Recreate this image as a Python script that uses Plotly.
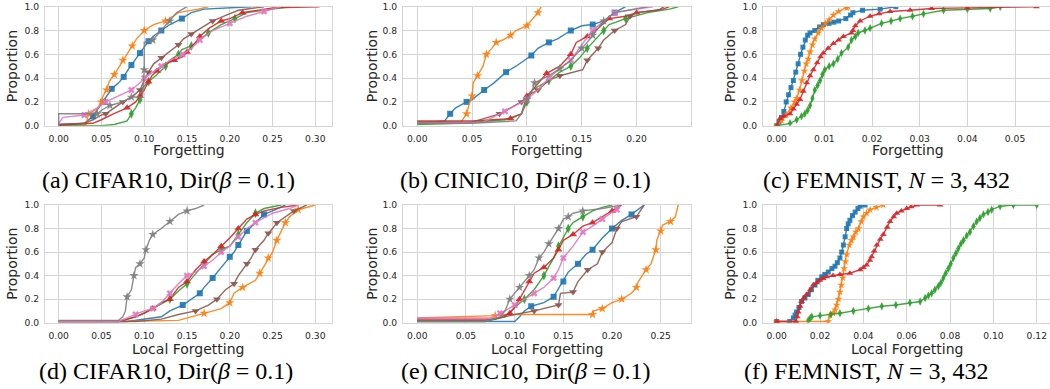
import plotly.graph_objects as go

# ---------------- data (ECDF breakpoints) ----------------
# (a) CIFAR10 Forgetting
A_BLUE_X = [0.0,0.03,0.04,0.045,0.052,0.058,0.062,0.07,0.076,0.082,0.085,0.09,0.095,0.1,0.105,0.112,0.12,0.13,0.144,0.155,0.17,0.2,0.225]
A_BLUE_Y = [0.01,0.02,0.08,0.13,0.2,0.27,0.31,0.36,0.41,0.48,0.51,0.55,0.61,0.66,0.71,0.76,0.8,0.85,0.9,0.95,0.98,0.99,1.0]
A_ORANGE_X = [0.0,0.032,0.035,0.045,0.05,0.052,0.056,0.059,0.065,0.07,0.075,0.081,0.086,0.091,0.1,0.111,0.125,0.14,0.163,0.175]
A_ORANGE_Y = [0.0,0.01,0.1,0.14,0.2,0.25,0.3,0.37,0.43,0.49,0.55,0.61,0.67,0.73,0.8,0.85,0.88,0.95,0.98,1.0]
A_GREEN_X = [0.0,0.05,0.065,0.08,0.085,0.09,0.095,0.097,0.105,0.115,0.125,0.13,0.14,0.144,0.155,0.165,0.175,0.19,0.206,0.22,0.25,0.27]
A_GREEN_Y = [0.0,0.0,0.01,0.04,0.1,0.15,0.22,0.31,0.37,0.43,0.5,0.55,0.6,0.64,0.67,0.72,0.78,0.85,0.9,0.95,0.98,1.0]
A_RED_X = [0.0,0.04,0.05,0.064,0.08,0.09,0.095,0.1,0.105,0.109,0.115,0.122,0.135,0.145,0.15,0.16,0.165,0.176,0.19,0.2,0.215,0.25,0.305]
A_RED_Y = [0.01,0.02,0.05,0.1,0.15,0.2,0.25,0.3,0.37,0.42,0.46,0.51,0.55,0.58,0.62,0.7,0.75,0.82,0.88,0.9,0.95,0.99,1.0]
A_BROWN_X = [0.0,0.03,0.04,0.05,0.055,0.065,0.075,0.085,0.095,0.1,0.105,0.111,0.12,0.13,0.14,0.146,0.155,0.169,0.18,0.196,0.21,0.24]
A_BROWN_Y = [0.0,0.02,0.05,0.09,0.1,0.15,0.2,0.24,0.3,0.38,0.45,0.52,0.57,0.62,0.68,0.73,0.77,0.83,0.88,0.93,0.97,1.0]
A_PINK_X = [0.0,0.005,0.03,0.045,0.055,0.07,0.085,0.095,0.1,0.11,0.12,0.13,0.145,0.155,0.165,0.18,0.2,0.22,0.24,0.26]
A_PINK_Y = [0.02,0.07,0.09,0.15,0.2,0.25,0.3,0.36,0.4,0.45,0.5,0.55,0.6,0.65,0.72,0.8,0.86,0.92,0.96,1.0]
A_GRAY_X = [0.0,0.0,0.045,0.05,0.06,0.075,0.085,0.098,0.1,0.1,0.11,0.12,0.13,0.138,0.15]
A_GRAY_Y = [0.0,0.1,0.1,0.13,0.17,0.2,0.24,0.24,0.47,0.7,0.72,0.8,0.88,0.95,1.0]

# (b) CINIC10 Forgetting
B_BLUE_X = [0.0,0.025,0.03,0.035,0.045,0.05,0.061,0.07,0.081,0.09,0.104,0.11,0.12,0.128,0.14,0.15,0.16,0.17,0.18,0.19]
B_BLUE_Y = [0.02,0.04,0.1,0.15,0.2,0.22,0.3,0.36,0.45,0.5,0.59,0.65,0.7,0.73,0.8,0.84,0.85,0.88,0.95,1.0]
B_ORANGE_X = [0.0,0.04,0.045,0.047,0.05,0.051,0.055,0.06,0.063,0.068,0.072,0.078,0.085,0.09,0.1,0.105,0.11,0.113]
B_ORANGE_Y = [0.03,0.03,0.1,0.17,0.25,0.36,0.42,0.5,0.6,0.65,0.7,0.72,0.76,0.8,0.84,0.9,0.95,1.0]
B_GREEN_X = [0.0,0.04,0.08,0.095,0.1,0.105,0.12,0.13,0.14,0.148,0.155,0.161,0.17,0.175,0.19,0.21,0.23,0.238]
B_GREEN_Y = [0.01,0.02,0.05,0.1,0.2,0.3,0.38,0.45,0.5,0.57,0.65,0.71,0.8,0.85,0.9,0.95,0.98,1.0]
B_RED_X = [0.0,0.05,0.085,0.095,0.1,0.105,0.118,0.13,0.14,0.145,0.155,0.165,0.175,0.19,0.2,0.224,0.23]
B_RED_Y = [0.04,0.04,0.06,0.1,0.25,0.3,0.44,0.5,0.6,0.7,0.75,0.82,0.9,0.92,0.95,0.98,1.0]
B_BROWN_X = [0.0,0.05,0.075,0.085,0.095,0.1,0.11,0.12,0.13,0.151,0.155,0.16,0.165,0.17,0.18,0.19,0.194,0.2,0.22,0.225]
B_BROWN_Y = [0.03,0.03,0.1,0.15,0.2,0.25,0.3,0.38,0.42,0.47,0.55,0.6,0.65,0.72,0.8,0.85,0.92,0.95,0.97,1.0]
B_PINK_X = [0.0,0.06,0.08,0.09,0.1,0.11,0.12,0.13,0.14,0.15,0.16,0.17,0.18,0.2,0.215]
B_PINK_Y = [0.02,0.03,0.12,0.17,0.22,0.3,0.4,0.48,0.55,0.68,0.8,0.88,0.95,0.98,1.0]
B_GRAY_X = [0.0,0.05,0.09,0.095,0.1,0.105,0.107,0.12,0.13,0.14,0.15,0.155,0.16,0.165,0.17,0.18,0.2,0.21]
B_GRAY_Y = [0.02,0.02,0.04,0.1,0.22,0.3,0.36,0.42,0.48,0.55,0.65,0.7,0.76,0.82,0.88,0.95,0.98,1.0]

# (c) FEMNIST Forgetting
C_BLUE_X = [0.0,0.0005,0.001,0.0015,0.002,0.0025,0.003,0.0035,0.004,0.0045,0.005,0.0055,0.006,0.0065,0.007,0.008,0.009,0.0098,0.011,0.012,0.013,0.0145,0.0155,0.016,0.018,0.0217,0.025]
C_BLUE_Y = [0.0,0.03,0.07,0.12,0.2,0.26,0.32,0.38,0.45,0.52,0.6,0.66,0.72,0.76,0.78,0.8,0.83,0.85,0.86,0.87,0.88,0.9,0.93,0.95,0.97,0.98,1.0]
C_ORANGE_X = [0.0,0.001,0.002,0.003,0.0038,0.0042,0.0048,0.0053,0.0058,0.0062,0.0066,0.007,0.0075,0.008,0.0087,0.0094,0.0102,0.011,0.0119,0.013,0.0147,0.015]
C_ORANGE_Y = [0.0,0.04,0.09,0.15,0.2,0.23,0.3,0.38,0.46,0.52,0.56,0.62,0.68,0.73,0.78,0.82,0.86,0.89,0.93,0.96,0.99,1.0]
C_GREEN_X = [0.0003,0.0028,0.0042,0.0052,0.0059,0.0065,0.007,0.0075,0.008,0.0086,0.0091,0.0096,0.0101,0.011,0.0119,0.0128,0.0136,0.015,0.0157,0.0165,0.0171,0.0185,0.0196,0.022,0.024,0.0259,0.0285,0.0308,0.035,0.04,0.0448,0.0469]
C_GREEN_Y = [0.0,0.02,0.05,0.08,0.1,0.13,0.17,0.23,0.3,0.34,0.38,0.43,0.47,0.5,0.52,0.56,0.61,0.66,0.72,0.75,0.78,0.8,0.82,0.86,0.88,0.9,0.92,0.94,0.97,0.98,0.985,1.0]
C_RED_X = [0.0,0.0007,0.0015,0.0028,0.0035,0.0042,0.0049,0.0056,0.0063,0.007,0.0077,0.0085,0.0092,0.0098,0.0108,0.0119,0.013,0.014,0.0157,0.016,0.0165,0.0175,0.0196,0.0215,0.0238,0.028,0.0325,0.04,0.0545]
C_RED_Y = [0.0,0.06,0.08,0.1,0.14,0.18,0.22,0.29,0.36,0.42,0.47,0.53,0.58,0.61,0.65,0.69,0.72,0.75,0.78,0.8,0.84,0.88,0.92,0.94,0.96,0.97,0.985,0.99,1.0]

# (d) CIFAR10 Local Forgetting
D_BLUE_X = [0.0,0.08,0.12,0.13,0.145,0.155,0.165,0.17,0.18,0.19,0.2,0.205,0.21,0.215,0.22,0.23,0.24,0.25,0.265]
D_BLUE_Y = [0.01,0.01,0.05,0.1,0.15,0.2,0.25,0.3,0.38,0.47,0.56,0.6,0.66,0.72,0.78,0.85,0.92,0.95,1.0]
D_ORANGE_X = [0.0,0.07,0.14,0.15,0.17,0.19,0.2,0.205,0.215,0.23,0.235,0.24,0.245,0.25,0.255,0.26,0.265,0.27,0.28,0.3]
D_ORANGE_Y = [0.01,0.01,0.02,0.04,0.08,0.12,0.17,0.25,0.3,0.36,0.42,0.48,0.55,0.6,0.7,0.78,0.85,0.9,0.96,1.0]
D_GREEN_X = [0.0,0.07,0.09,0.11,0.13,0.14,0.15,0.16,0.17,0.18,0.19,0.2,0.21,0.22,0.23,0.24,0.26]
D_GREEN_Y = [0.01,0.01,0.05,0.12,0.2,0.27,0.33,0.42,0.5,0.58,0.62,0.65,0.75,0.85,0.93,0.97,1.0]
D_RED_X = [0.0,0.07,0.09,0.1,0.11,0.12,0.13,0.14,0.15,0.16,0.17,0.18,0.19,0.2,0.21,0.22,0.23,0.24,0.26,0.28]
D_RED_Y = [0.01,0.01,0.05,0.08,0.12,0.17,0.2,0.3,0.35,0.45,0.52,0.58,0.65,0.72,0.8,0.88,0.92,0.95,0.98,1.0]
D_BROWN_X = [0.0,0.09,0.12,0.14,0.16,0.175,0.185,0.195,0.205,0.21,0.22,0.225,0.23,0.24,0.245,0.25,0.255,0.265,0.275,0.29]
D_BROWN_Y = [0.01,0.01,0.03,0.07,0.1,0.15,0.2,0.28,0.33,0.4,0.5,0.55,0.62,0.7,0.76,0.8,0.85,0.9,0.95,1.0]
D_PINK_X = [0.0,0.07,0.09,0.1,0.11,0.12,0.13,0.14,0.15,0.16,0.17,0.18,0.19,0.2,0.21,0.22,0.23,0.25,0.27,0.28]
D_PINK_Y = [0.01,0.01,0.07,0.1,0.12,0.17,0.25,0.33,0.4,0.43,0.48,0.53,0.6,0.65,0.73,0.8,0.85,0.93,0.97,1.0]
D_GRAY_X = [0.0,0.07,0.075,0.078,0.08,0.085,0.088,0.09,0.095,0.1,0.102,0.106,0.11,0.12,0.13,0.14,0.15,0.16,0.17]
D_GRAY_Y = [0.02,0.02,0.05,0.1,0.22,0.28,0.4,0.47,0.5,0.55,0.62,0.7,0.75,0.8,0.86,0.92,0.95,0.97,1.0]

# (e) CINIC10 Local Forgetting
E_BLUE_X = [0.0,0.1,0.105,0.11,0.117,0.13,0.14,0.145,0.15,0.155,0.165,0.173,0.18,0.19,0.2,0.21,0.22,0.23,0.233]
E_BLUE_Y = [0.01,0.01,0.05,0.1,0.14,0.17,0.22,0.29,0.35,0.43,0.5,0.58,0.62,0.72,0.8,0.87,0.92,0.98,1.0]
E_ORANGE_X = [0.0,0.05,0.08,0.09,0.18,0.181,0.19,0.2,0.21,0.22,0.225,0.227,0.235,0.24,0.245,0.246,0.25,0.252,0.26,0.265,0.268]
E_ORANGE_Y = [0.04,0.05,0.06,0.07,0.07,0.1,0.12,0.17,0.2,0.25,0.3,0.35,0.45,0.5,0.62,0.7,0.78,0.83,0.86,0.9,1.0]
E_GREEN_X = [0.0,0.07,0.09,0.1,0.11,0.12,0.13,0.14,0.145,0.15,0.155,0.16,0.17,0.18,0.19,0.2]
E_GREEN_Y = [0.01,0.01,0.05,0.13,0.2,0.28,0.4,0.55,0.65,0.72,0.8,0.85,0.9,0.95,0.98,1.0]
E_RED_X = [0.0,0.08,0.095,0.1,0.105,0.11,0.115,0.12,0.13,0.14,0.145,0.15,0.16,0.17,0.18,0.19,0.2,0.21]
E_RED_Y = [0.03,0.03,0.08,0.13,0.2,0.27,0.35,0.42,0.47,0.55,0.62,0.7,0.75,0.82,0.85,0.9,0.95,1.0]
E_BROWN_X = [0.0,0.07,0.09,0.1,0.12,0.13,0.145,0.147,0.16,0.165,0.175,0.185,0.19,0.2,0.205,0.21,0.225,0.233]
E_BROWN_Y = [0.02,0.02,0.05,0.07,0.1,0.12,0.15,0.25,0.26,0.35,0.45,0.5,0.6,0.68,0.8,0.86,0.9,1.0]
E_PINK_X = [0.0,0.075,0.085,0.09,0.1,0.11,0.12,0.13,0.14,0.145,0.15,0.16,0.17,0.18,0.19,0.2,0.205,0.21]
E_PINK_Y = [0.04,0.04,0.08,0.1,0.15,0.2,0.25,0.3,0.38,0.45,0.55,0.65,0.77,0.82,0.88,0.94,0.96,1.0]
E_GRAY_X = [0.0,0.07,0.085,0.09,0.095,0.1,0.105,0.11,0.115,0.12,0.125,0.13,0.135,0.14,0.145,0.15,0.155,0.16,0.17,0.19,0.21]
E_GRAY_Y = [0.01,0.01,0.05,0.1,0.2,0.25,0.3,0.35,0.4,0.45,0.55,0.6,0.67,0.73,0.8,0.88,0.9,0.93,0.95,0.97,1.0]

# (f) FEMNIST Local Forgetting
F_BLUE_X = [0.0,0.006,0.0077,0.0085,0.0092,0.0103,0.0115,0.013,0.0146,0.016,0.0177,0.019,0.0208,0.0222,0.0238,0.0255,0.0269,0.028,0.0292,0.03,0.0308,0.0316,0.0323,0.033,0.0338,0.035,0.0362,0.0375,0.0385,0.0408]
F_BLUE_Y = [0.01,0.01,0.04,0.065,0.09,0.13,0.18,0.21,0.24,0.28,0.32,0.36,0.39,0.41,0.43,0.46,0.48,0.51,0.55,0.6,0.66,0.73,0.8,0.84,0.87,0.91,0.94,0.97,0.99,1.0]
F_ORANGE_X = [0.0,0.0238,0.0246,0.026,0.027,0.0277,0.0285,0.0292,0.0298,0.0305,0.0311,0.0317,0.0323,0.0335,0.0345,0.0354,0.0365,0.0377,0.039,0.04,0.0415,0.0431,0.046,0.0492]
F_ORANGE_Y = [0.01,0.01,0.065,0.08,0.11,0.15,0.2,0.26,0.32,0.38,0.46,0.52,0.58,0.66,0.7,0.73,0.77,0.8,0.86,0.9,0.93,0.96,0.98,1.0]
F_GREEN_X = [0.0146,0.0155,0.0162,0.02,0.025,0.0292,0.0354,0.0423,0.0485,0.055,0.0615,0.0662,0.0685,0.07,0.0715,0.073,0.0746,0.0758,0.0769,0.078,0.0792,0.0803,0.0815,0.0827,0.0838,0.085,0.0862,0.0877,0.0892,0.0908,0.0923,0.0938,0.0954,0.0975,0.0992,0.1031,0.1092,0.12]
F_GREEN_Y = [0.02,0.04,0.05,0.06,0.07,0.08,0.1,0.12,0.14,0.15,0.17,0.18,0.21,0.23,0.25,0.28,0.31,0.34,0.38,0.42,0.46,0.5,0.55,0.59,0.63,0.67,0.7,0.74,0.77,0.82,0.86,0.89,0.92,0.94,0.96,0.99,1.0,1.0]
F_RED_X = [0.0,0.0089,0.0095,0.01,0.0108,0.0115,0.0125,0.0138,0.0155,0.0169,0.0185,0.02,0.0215,0.0231,0.026,0.0292,0.0338,0.0385,0.04,0.0415,0.043,0.0438,0.045,0.0462,0.0478,0.0492,0.051,0.0523,0.054,0.0554,0.0575,0.06,0.062,0.0646,0.0754]
F_RED_Y = [0.01,0.01,0.05,0.09,0.14,0.18,0.21,0.24,0.28,0.32,0.34,0.36,0.375,0.39,0.4,0.41,0.42,0.45,0.47,0.49,0.53,0.56,0.61,0.66,0.71,0.75,0.81,0.86,0.9,0.93,0.95,0.97,0.985,1.0,1.0]

# tick values per panel
TICKS_A = [0.0, 0.05, 0.10, 0.15, 0.20, 0.25, 0.30]
TICKS_B = [0.0, 0.05, 0.10, 0.15, 0.20]
TICKS_C = [0.0, 0.01, 0.02, 0.03, 0.04, 0.05]
TICKS_D = [0.0, 0.05, 0.10, 0.15, 0.20, 0.25, 0.30]
TICKS_E = [0.0, 0.05, 0.10, 0.15, 0.20, 0.25]
TICKS_F = [0.0, 0.02, 0.04, 0.06, 0.08, 0.10, 0.12]
Y_TICKS = [0.0, 0.2, 0.4, 0.6, 0.8, 1.0]

CAPTIONS = ["(a) CIFAR10, Dir(<i>β</i> = 0.1)", "(b) CINIC10, Dir(<i>β</i> = 0.1)",
            "(c) FEMNIST, <i>N</i> = 3, 432", "(d) CIFAR10, Dir(<i>β</i> = 0.1)",
            "(e) CINIC10, Dir(<i>β</i> = 0.1)", "(f) FEMNIST, <i>N</i> = 3, 432"]
XLABELS = ["Forgetting", "Forgetting", "Forgetting", "Local Forgetting", "Local Forgetting", "Local Forgetting"]

# ---------------- styles ----------------
STYLE = {
    "blue": ("#1f77b4", "square", 6),
    "orange": ("#ff7f0e", "star", 7),
    "green": ("#2ca02c", "diamond-tall", 7),
    "red": ("#d62728", "triangle-up", 7),
    "brown": ("#8c564b", "triangle-down", 7),
    "pink": ("#e377c2", "x", 6),
    "gray": ("#7f7f7f", "star", 7),
}

panels = [
    dict(series=[("blue", A_BLUE_X, A_BLUE_Y), ("orange", A_ORANGE_X, A_ORANGE_Y), ("green", A_GREEN_X, A_GREEN_Y),
                 ("red", A_RED_X, A_RED_Y), ("brown", A_BROWN_X, A_BROWN_Y), ("pink", A_PINK_X, A_PINK_Y),
                 ("gray", A_GRAY_X, A_GRAY_Y)],
         ticks=TICKS_A, xr=[-0.016, 0.3195], px=(45, 332), row=0, dense=False),
    dict(series=[("blue", B_BLUE_X, B_BLUE_Y), ("orange", B_ORANGE_X, B_ORANGE_Y), ("green", B_GREEN_X, B_GREEN_Y),
                 ("red", B_RED_X, B_RED_Y), ("brown", B_BROWN_X, B_BROWN_Y), ("pink", B_PINK_X, B_PINK_Y),
                 ("gray", B_GRAY_X, B_GRAY_Y)],
         ticks=TICKS_B, xr=[-0.013, 0.2496], px=(403, 691), row=0, dense=False),
    dict(series=[("blue", C_BLUE_X, C_BLUE_Y), ("orange", C_ORANGE_X, C_ORANGE_Y), ("green", C_GREEN_X, C_GREEN_Y),
                 ("red", C_RED_X, C_RED_Y)],
         ticks=TICKS_C, xr=[-0.00287, 0.05734], px=(763, 1050), row=0, dense=True),
    dict(series=[("blue", D_BLUE_X, D_BLUE_Y), ("orange", D_ORANGE_X, D_ORANGE_Y), ("green", D_GREEN_X, D_GREEN_Y),
                 ("red", D_RED_X, D_RED_Y), ("brown", D_BROWN_X, D_BROWN_Y), ("pink", D_PINK_X, D_PINK_Y),
                 ("gray", D_GRAY_X, D_GRAY_Y)],
         ticks=TICKS_D, xr=[-0.016, 0.3195], px=(45, 332), row=1, dense=False),
    dict(series=[("blue", E_BLUE_X, E_BLUE_Y), ("orange", E_ORANGE_X, E_ORANGE_Y), ("green", E_GREEN_X, E_GREEN_Y),
                 ("red", E_RED_X, E_RED_Y), ("brown", E_BROWN_X, E_BROWN_Y), ("pink", E_PINK_X, E_PINK_Y),
                 ("gray", E_GRAY_X, E_GRAY_Y)],
         ticks=TICKS_E, xr=[-0.0147, 0.2811], px=(403, 691), row=1, dense=False),
    dict(series=[("blue", F_BLUE_X, F_BLUE_Y), ("orange", F_ORANGE_X, F_ORANGE_Y), ("green", F_GREEN_X, F_GREEN_Y),
                 ("red", F_RED_X, F_RED_Y)],
         ticks=TICKS_F, xr=[-0.0063, 0.1261], px=(763, 1050), row=1, dense=True),
]

W, H = 1050, 389
ROW_PX = [(6.7, 125.7), (205, 322.7)]   # top, bottom pixel of plot areas

fig = go.Figure()
layout = dict(width=W, height=H, margin=dict(l=0, r=0, t=0, b=0, autoexpand=False), paper_bgcolor="white",
              plot_bgcolor="white", showlegend=False)
annotations = []
GRID = "#d5d5d5"
TXT = "#262626"

for i, p in enumerate(panels):
    k = "" if i == 0 else str(i + 1)
    xa, ya = "x" + k, "y" + k
    top, bot = ROW_PX[p["row"]]
    x0, x1 = p["px"]
    dom_x = [x0 / W, min(x1 / W, 1.0)]
    dom_y = [1 - bot / H, 1 - top / H]
    cut = x1 >= W
    layout["xaxis" + k] = dict(domain=dom_x, range=p["xr"], anchor=ya, tickvals=p["ticks"],
                               tickformat=".2f", showgrid=True, gridcolor=GRID, gridwidth=1,
                               zeroline=False, showline=True, linecolor=GRID, linewidth=1, mirror=True,
                               ticks="", tickfont=dict(family="DejaVu Sans", size=9.2, color=TXT),
                               ticklabelstandoff=4, automargin=False)
    layout["yaxis" + k] = dict(domain=dom_y, range=[0, 1], anchor=xa, tickvals=Y_TICKS, tickformat=".1f",
                               showgrid=True, gridcolor=GRID, gridwidth=1, zeroline=False, showline=True,
                               linecolor=GRID, linewidth=1, mirror=not cut, ticks="",
                               tickfont=dict(family="DejaVu Sans", size=9.2, color=TXT),
                               ticklabelstandoff=3, automargin=False)
    for name, xs, ys in p["series"]:
        assert len(xs) == len(ys), (i, name)
        color, sym, msz = STYLE[name]
        fig.add_trace(go.Scatter(x=xs, y=ys, mode="lines", xaxis=xa, yaxis=ya,
                                 line=dict(color=color, width=1.4), opacity=0.9, hoverinfo="skip"))
        if p["dense"]:
            mx, my = xs, ys
        else:
            keep = [j for j, yv in enumerate(ys) if j % 2 == 0 and 0.05 < yv < 0.97]
            mx = [xs[j] for j in keep]
            my = [ys[j] for j in keep]
        fig.add_trace(go.Scatter(x=mx, y=my, mode="markers", xaxis=xa, yaxis=ya, cliponaxis=True,
                                 marker=dict(color=color, symbol=sym, size=msz if not p["dense"] else msz - 1,
                                             line=dict(width=0)),
                                 opacity=0.9, hoverinfo="skip"))
    # axis titles
    cx = (x0 + (1052 if cut else x1)) / 2
    title_y = 150 if p["row"] == 0 else 349
    annotations.append(dict(x=cx / W, y=1 - title_y / H, xref="paper", yref="paper", text=XLABELS[i],
                            showarrow=False, xanchor="center", yanchor="middle",
                            font=dict(family="DejaVu Sans", size=14, color=TXT)))
    ylab_x = {45: 12, 403: 372, 763: 730}[x0]
    annotations.append(dict(x=ylab_x / W, y=1 - (top + bot) / 2 / H, xref="paper", yref="paper",
                            text="Proportion", textangle=-90, showarrow=False, xanchor="center",
                            yanchor="middle", font=dict(family="DejaVu Sans", size=14, color=TXT)))

CAP_X = [168, 525, 886, 166, 525, 866]
CAP_Y = [180, 180, 180, 371, 371, 371]
for i, c in enumerate(CAPTIONS):
    annotations.append(dict(x=CAP_X[i] / W, y=1 - CAP_Y[i] / H, xref="paper", yref="paper", text=c,
                            showarrow=False, xanchor="center", yanchor="middle",
                            font=dict(family="Liberation Serif", size=24, color="black")))

layout["annotations"] = annotations
fig.update_layout(**layout)
fig.write_html("out.html", config={"displayModeBar": False, "staticPlot": True},
               post_script="document.body.style.margin='0px';document.body.style.overflow='hidden';")
